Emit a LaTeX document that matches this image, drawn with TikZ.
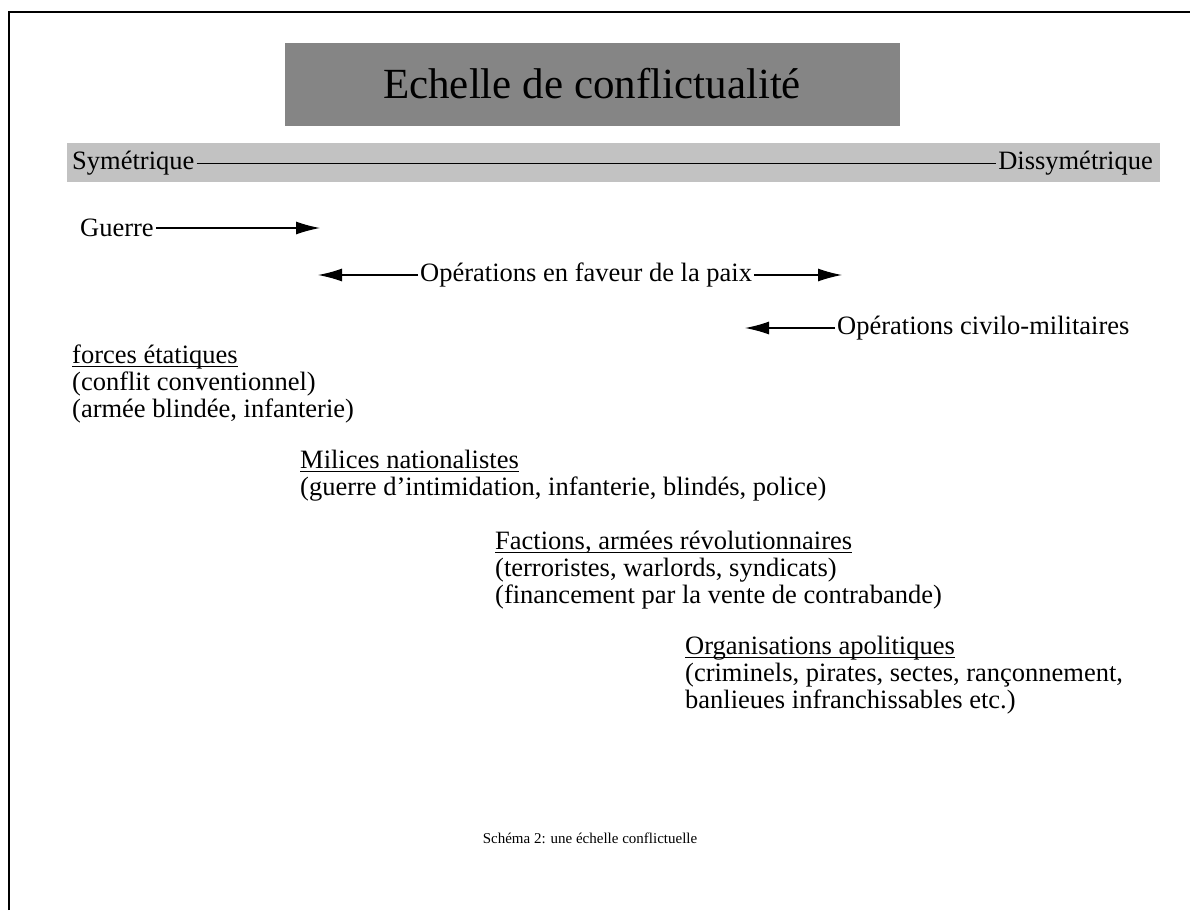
\documentclass[tikz,border=0pt]{standalone}
\usepackage{fontspec}
\setmainfont{Liberation Serif}
\usetikzlibrary{arrows.meta}

% soulignement qui coupe les jambages
\newcommand{\souligne}[1]{\setbox0\hbox{#1}\rlap{\rule[-3.5pt]{\wd0}{1.1pt}}\box0}

\tikzset{
  texte/.style={anchor=west, inner sep=2pt, font=\fontsize{26.5}{27}\selectfont},
  bloc/.style={anchor=north west, inner sep=0pt, align=left, font=\fontsize{26.5}{27}\selectfont},
  fleche/.style={-{Latex[length=24pt,width=13pt]}, line width=1.2pt},
}

\begin{document}
\begin{tikzpicture}[x=1pt,y=-1pt]
        \useasboundingbox (0,0) rectangle (1190,910);
        % cadre
        \draw[line width=2.5pt] (9,910) -- (9,12) -- (1190,12);
        % titre
        \node[fill=black!48, minimum width=615pt, minimum height=83pt, inner sep=0pt, font=\fontsize{43}{43}\selectfont] (titre) at (592,84) {Echelle de conflictualité};
        % bandeau
        \fill[black!24] (67,143) rectangle (1160,182);
        \node[texte] (sym) at (70,163) {Symétrique};
        \node[texte, anchor=east] (dissym) at (1155,163) {Dissymétrique};
        \draw[line width=1pt] (sym) -- (dissym);
        % fleches
        \node[texte] (guerre) at (78,228) {Guerre};
        \coordinate (guerrefin) at (320,228);
        \draw[fleche] (guerre) -- (guerrefin);
        \node[texte] (paix) at (418,275) {Opérations en faveur de la paix};
        \coordinate (paixg) at (318,275);
        \coordinate (paixd) at (842,275);
        \draw[fleche] (paix) -- (paixg);
        \draw[fleche] (paix) -- (paixd);
        \node[texte] (civil) at (835,328) {Opérations civilo-militaires};
        \coordinate (civilg) at (745,328);
        \draw[fleche] (civil) -- (civilg);
        % acteurs
        \node[bloc] (forces) at (72,345) {\souligne{forces étatiques}\\(conflit conventionnel)\\(armée blindée, infanterie)};
        \node[bloc] (milices) at (300,450) {\souligne{Milices nationalistes}\\(guerre d'intimidation, infanterie, blindés, police)};
        \node[bloc] (factions) at (495,531) {\souligne{Factions, armées révolutionnaires}\\(terroristes, warlords, syndicats)\\(financement par la vente de contrabande)};
        \node[bloc] (organisations) at (685,636) {\souligne{Organisations apolitiques}\\(criminels, pirates, sectes, rançonnement,\\banlieues infranchissables etc.)};
        % legende
        \node[font=\fontsize{15}{15}\selectfont] (legende) at (590,838) {Schéma 2: une échelle conflictuelle};
\end{tikzpicture}
\end{document}
